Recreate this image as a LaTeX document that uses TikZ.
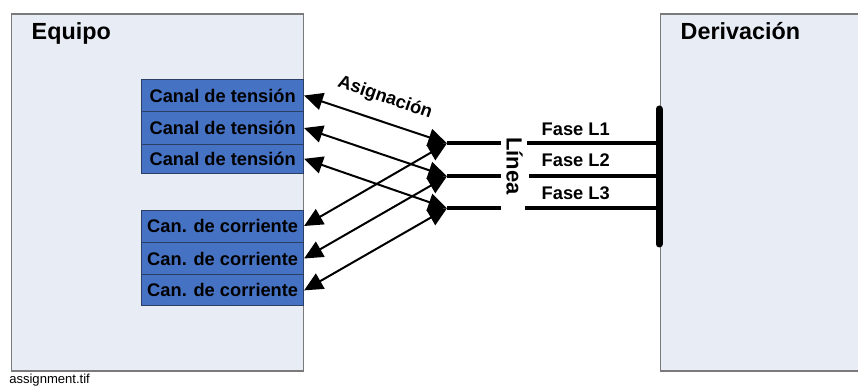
\documentclass[tikz,border=0pt]{standalone}
\usepackage{fontspec}
\setmainfont{Liberation Sans}
\usetikzlibrary{arrows.meta}

\definecolor{panelfill}{RGB}{232,236,245}
\definecolor{paneldraw}{RGB}{122,122,122}
\definecolor{chanfill}{RGB}{70,114,196}
\definecolor{chandraw}{RGB}{42,62,102}

\tikzset{
  panel/.style={fill=panelfill,draw=paneldraw,line width=0.9pt},
  chan_box/.style={rectangle,fill=chanfill,draw=chandraw,line width=0.6pt,
    minimum width=121.5pt,inner sep=0pt,font=\fontsize{13.7}{16}\selectfont\bfseries},
  assign_arrow/.style={{Triangle[length=14pt,width=13pt]}-{Triangle[length=14pt,width=13pt]},line width=1.5pt},
  phase_line/.style={line width=3pt},
  bus_bar/.style={line width=5.25pt,line cap=round},
}

\begin{document}
\begin{tikzpicture}[
  x=0.75pt, y=-0.75pt,
  every node/.style={color=black},
  big label/.style={font=\fontsize{17.5}{20}\selectfont\bfseries},
  mid label/.style={font=\fontsize{13.7}{16}\selectfont\bfseries},
  ]
  \useasboundingbox (0,0) rectangle (858,388);

  % panels
  \draw[panel] (11.7,14) rectangle (303.7,371);
  \fill[panelfill] (660.7,14) rectangle (858,371);
  \draw[paneldraw,line width=0.9pt] (858,14) -- (660.7,14) -- (660.7,371) -- (858,371);

  \node[big label,anchor=base west] (equipo) at (27,40) {Equipo};
  \node[big label,anchor=base west] (deriv) at (676,40) {Derivación};

  \foreach \name/\y/\h in {volt1/95.5/32.4, volt2/128/32.6, volt3/158.8/29}{
    \node[chan_box,minimum height=\h*0.75pt] (\name) at (222.7,\y) {Canal de tensión};
  }
  \foreach \name/\y/\h in {cur1/226/32, cur2/258.5/33, cur3/290.4/31}{
    \node[chan_box,minimum height=\h*0.75pt] (\name) at (222.7,\y) {Can. de corriente};
  }

  % line and bus
  \coordinate (bustop) at (659,109);
  \coordinate (busbot) at (659,244);
  \foreach \i/\y/\xr/\yb in {1/143.3/527/136, 2/176.3/529/167, 3/208.3/525/200}{
    \coordinate (l\i a) at (447,\y);
    \coordinate (l\i b) at (501,\y);
    \coordinate (l\i c) at (\xr,\y);
    \coordinate (l\i d) at (659,\y);
    \draw[phase_line] (l\i a) -- (l\i b);
    \draw[phase_line] (l\i c) -- (l\i d);
    \node[mid label,anchor=base west] (fase\i) at (537,\yb) {Fase L\i};
  }
  \draw[bus_bar] (bustop) -- (busbot);

  \node[font=\fontsize{16.5}{18}\selectfont\bfseries,rotate=-90,inner sep=0pt] (linea) at (514.5,166) {Línea};

  \foreach \src/\dst in {volt1/l1a, volt2/l2a, volt3/l3a, cur1/l1a, cur2/l2a, cur3/l3a}{
    \draw[assign_arrow] (\src.east) -- (\dst);
  }
  \node[mid label,rotate=-19,inner sep=0pt] (asig) at (385,98) {Asignación};

  \node[anchor=base west,font=\fontsize{9.8}{12}\selectfont,inner sep=0pt] (fname) at (9,384) {assignment.tif};
\end{tikzpicture}
\end{document}
